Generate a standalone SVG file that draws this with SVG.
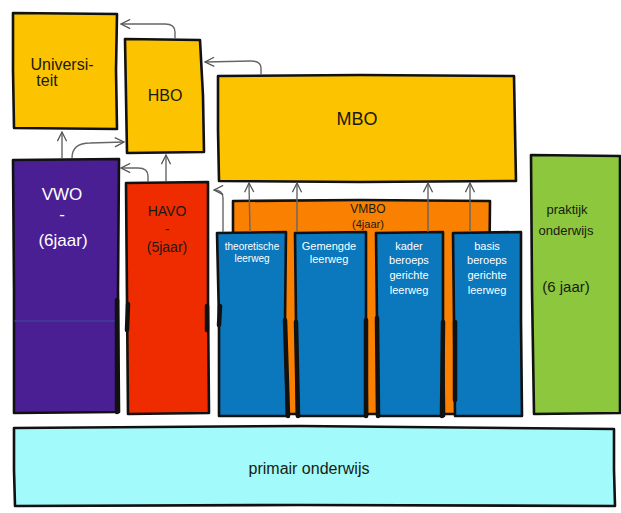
<svg xmlns="http://www.w3.org/2000/svg" width="621" height="513" viewBox="0 0 621 513">
<defs>
<marker id="ah" viewBox="0 0 12 12" refX="11" refY="6" markerWidth="11" markerHeight="11" markerUnits="userSpaceOnUse" orient="auto">
<path d="M1,1 L11,6 L1,11" fill="none" stroke="#555" stroke-width="1.4"/>
</marker>
<style>
.box{stroke:#111;stroke-width:2.6;stroke-linejoin:round}
.yel{fill:#FCC400}
.pur{fill:#4A1F93}
.red{fill:#EE2C00}
.org{fill:#F98000}
.blu{fill:#0B77BC}
.grn{fill:#8CC73E}
.cya{fill:#A2FAFA}
.t{font-family:"Liberation Sans",Arial,sans-serif;text-anchor:middle}
.dk{fill:#1a1a10}
.wh{fill:#fff}
.arr{fill:none;stroke:#666;stroke-width:1.4;marker-end:url(#ah)}
.thick{stroke:#111;stroke-width:4.5;fill:none;stroke-linecap:round}
</style>
</defs>
<rect width="621" height="513" fill="#fff"/>

<g id="universiteit">
<path class="box yel" d="M13,13 L117,14 L116,70 L117,129 L14,128 L13,70 Z"/>
<text class="t dk" x="62" y="70" font-size="16">Universi-</text>
<text class="t dk" x="47" y="86" font-size="16">teit</text>
</g>

<g id="hbo">
<path class="box yel" d="M125,39 L200,40 L203,96 L204,152 L127,153 L126,96 Z"/>
<text class="t dk" x="165" y="101" font-size="16">HBO</text>
</g>

<g id="mbo">
<path class="box yel" d="M218,76 L360,75 L514,76 L515,130 L516,181 L360,182 L219,181 L218,130 Z"/>
<text class="t dk" x="357" y="125" font-size="18">MBO</text>
</g>

<g id="vwo">
<path class="box pur" d="M13,160 L119,159 L118,290 L119,412 L14,413 L14,290 Z"/>
<line x1="14" y1="321" x2="118" y2="321" stroke="#3b4f9a" stroke-width="1"/>
<path class="thick" d="M117,300 L117,412"/>
<text class="t wh" x="62" y="200" font-size="17">VWO</text>
<text class="t wh" x="62" y="220" font-size="17">-</text>
<text class="t wh" x="63" y="246" font-size="17">(6jaar)</text>
</g>

<g id="havo">
<path class="box red" d="M126,183 L208,182 L208,300 L209,413 L128,414 L127,300 Z"/>
<path class="thick" d="M128,304 L127,330"/>
<path class="thick" d="M207,306 L207,330"/>
<text class="t dk" x="167" y="216" font-size="14">HAVO</text>
<text class="t dk" x="167" y="234" font-size="14">-</text>
<text class="t dk" x="167" y="252" font-size="14">(5jaar)</text>
</g>

<g id="vmbo">
<path class="box org" d="M233,201 L360,200 L490,201 L489,300 L490,414 L234,414 L233,300 Z"/>
<text class="t dk" x="368" y="213" font-size="12">VMBO</text>
<text class="t dk" x="368" y="228" font-size="11">(4jaar)</text>
</g>

<g id="theoretische">
<path class="box blu" d="M217,233 L286,232 L285,320 L287,416 L219,416 L219,320 Z"/>
<path class="thick" d="M220,306 L219,325"/>
<path class="thick" d="M285,320 L288,416"/>
<text class="t wh" x="252" y="250" font-size="10">theoretische</text>
<text class="t wh" x="252" y="262" font-size="10">leerweg</text>
</g>

<g id="gemengde">
<path class="box blu" d="M295,233 L366,232 L366,320 L367,416 L297,416 L296,320 Z"/>
<path class="thick" d="M296,322 L298,416"/>
<path class="thick" d="M366,320 L366,416"/>
<text class="t wh" x="329" y="250" font-size="11">Gemengde</text>
<text class="t wh" x="329" y="263" font-size="11">leerweg</text>
</g>

<g id="kader">
<path class="box blu" d="M376,233 L443,232 L443,320 L444,416 L378,416 L377,320 Z"/>
<path class="thick" d="M377,318 L378,416"/>
<path class="thick" d="M443,322 L442,416"/>
<text class="t wh" x="409" y="250" font-size="11">kader</text>
<text class="t wh" x="409" y="264" font-size="11">beroeps</text>
<text class="t wh" x="409" y="279" font-size="11">gerichte</text>
<text class="t wh" x="409" y="294" font-size="11">leerweg</text>
</g>

<g id="basis">
<path class="box blu" d="M453,233 L521,232 L521,320 L522,416 L455,416 L454,320 Z"/>
<path class="thick" d="M455,322 L455,400"/>
<text class="t wh" x="487" y="250" font-size="11">basis</text>
<text class="t wh" x="487" y="264" font-size="11">beroeps</text>
<text class="t wh" x="487" y="279" font-size="11">gerichte</text>
<text class="t wh" x="487" y="294" font-size="11">leerweg</text>
</g>

<g id="praktijk">
<path class="box grn" d="M531,155 L620,156 L620,290 L620,413 L534,414 L532,290 Z"/>
<text class="t dk" x="567" y="214" font-size="13">praktijk</text>
<text class="t dk" x="566" y="235" font-size="13">onderwijs</text>
<text class="t dk" x="566" y="292" font-size="15">(6 jaar)</text>
</g>

<g id="primair">
<path class="box cya" d="M14,428 L300,426 L614,429 L614,470 L615,506 L300,505 L15,506 L14,470 Z"/>
<text class="t dk" x="309" y="474" font-size="16">primair onderwijs</text>
</g>

<g id="connectors">
<path class="arr" d="M175,39 L175,32 Q175,24 165,24 L121,24"/>
<path class="arr" d="M261,75 L261,68 Q261,61 251,61 L205,62"/>
<path class="arr" d="M62,158 L62,132"/>
<path class="arr" d="M72,158 Q72,143 90,143 L124,142"/>
<path class="arr" d="M148,182 L148,176 Q148,168 138,168 L121,168"/>
<path class="arr" d="M166,181 L166,155"/>
<path class="arr" d="M223,232 L223,198 Q223,190 214,190"/>
<path class="arr" d="M250,232 L249,183"/>
<path class="arr" d="M297,232 L297,183"/>
<path class="arr" d="M428,232 L428,183"/>
<path class="arr" d="M470,232 L470,183"/>
</g>
</svg>
